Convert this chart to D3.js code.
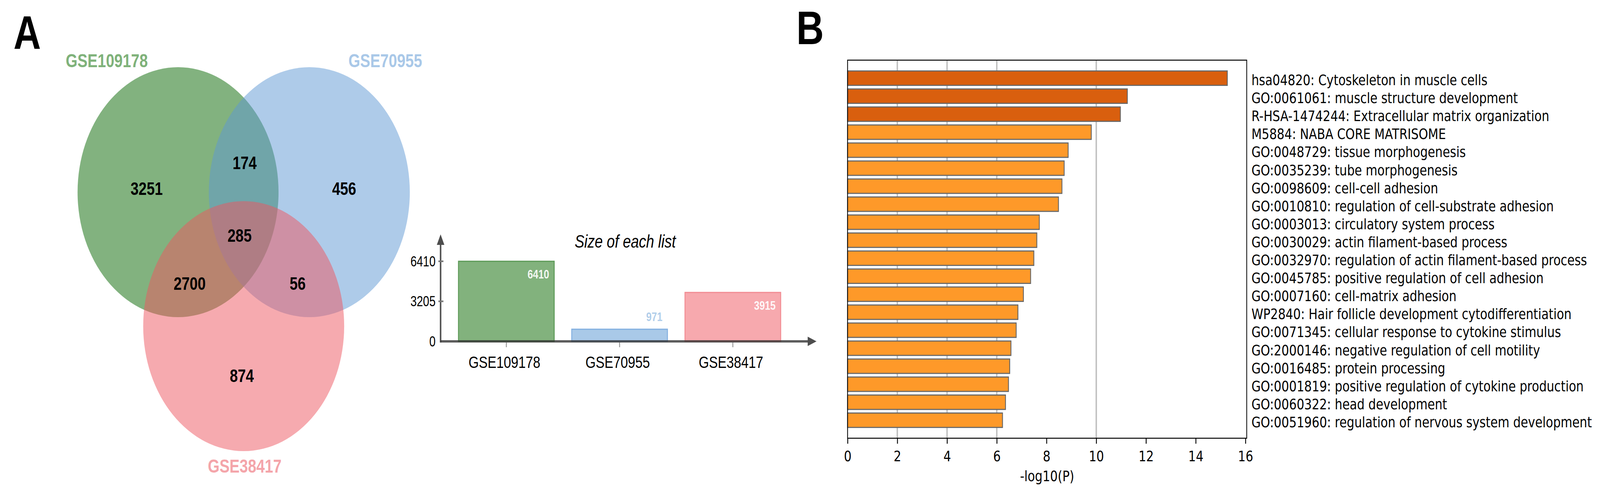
<!DOCTYPE html>
<html><head><meta charset="utf-8">
<script src="https://cdn.jsdelivr.net/npm/d3@7"></script>
<style>html,body{margin:0;padding:0;width:100%;height:100%;overflow:hidden;background:#fff}svg{display:block}</style>
</head><body>
<script>
// ---------------- DATA ----------------
const vennSetNames = ["GSE109178", "GSE70955", "GSE38417"];
const vennRegionKeys = ["G", "GB", "B", "GBR", "GR", "BR", "R"];
const vennRegionCounts = [3251, 174, 456, 285, 2700, 56, 874];

const listNames = ["GSE109178", "GSE70955", "GSE38417"];
const listSizes = [6410, 971, 3915];
const listTicks = [0, 3205, 6410];

const enrichTerms = [
  "hsa04820: Cytoskeleton in muscle cells",
  "GO:0061061: muscle structure development",
  "R-HSA-1474244: Extracellular matrix organization",
  "M5884: NABA CORE MATRISOME",
  "GO:0048729: tissue morphogenesis",
  "GO:0035239: tube morphogenesis",
  "GO:0098609: cell-cell adhesion",
  "GO:0010810: regulation of cell-substrate adhesion",
  "GO:0003013: circulatory system process",
  "GO:0030029: actin filament-based process",
  "GO:0032970: regulation of actin filament-based process",
  "GO:0045785: positive regulation of cell adhesion",
  "GO:0007160: cell-matrix adhesion",
  "WP2840: Hair follicle development cytodifferentiation",
  "GO:0071345: cellular response to cytokine stimulus",
  "GO:2000146: negative regulation of cell motility",
  "GO:0016485: protein processing",
  "GO:0001819: positive regulation of cytokine production",
  "GO:0060322: head development",
  "GO:0051960: regulation of nervous system development"
];
const enrichValues = [15.27, 11.25, 10.97, 9.80, 8.87, 8.71, 8.62, 8.48, 7.71, 7.61,
                      7.49, 7.36, 7.07, 6.85, 6.78, 6.57, 6.52, 6.47, 6.35, 6.23];
const enrichTicks = [0, 2, 4, 6, 8, 10, 12, 14, 16];
const enrichGrid = [2, 4, 6, 10];

// ---------------- LAYOUT / STYLE ----------------
const W = 5095, H = 1252;
const ARIAL = "'Liberation Sans', Arial, sans-serif";
const DEJA = "'DejaVu Sans', sans-serif";

const svg = d3.select("body").append("svg")
  .attr("width", "100%").attr("height", "100%")
  .attr("viewBox", `0 0 ${W} ${H}`).attr("preserveAspectRatio", "none");
svg.append("rect").attr("width", W).attr("height", H).attr("fill", "#fff");

// Panel letters
svg.append("text").attr("x", 43).attr("y", 125).attr("font-family", ARIAL)
  .attr("font-weight", "bold").attr("font-size", 121).text("A");
svg.append("text").attr("x", 2536).attr("y", 113).attr("font-family", ARIAL)
  .attr("font-weight", "bold").attr("font-size", 121).text("B");

// ---------------- VENN ----------------
const VENN = {
  r: 320,
  centers: [[567, 492], [985, 492], [776, 835]],
  fills: ["rgb(5,101,0)", "rgb(93,151,211)", "rgb(237,85,95)"],
  labelColors: ["#7fb27a", "#a9c8e8", "#f4a5aa"],
  labelPos: [[340, 172], [1227, 172], [779, 1210]],
  regionPos: {G: [467, 499], GB: [779, 433], B: [1096, 499], GBR: [763, 619],
              GR: [604, 742], BR: [948, 742], R: [770, 978]}
};
const vg = svg.append("g");
vg.selectAll("circle").data(vennSetNames).join("circle")
  .attr("cx", (d, i) => VENN.centers[i][0]).attr("cy", (d, i) => VENN.centers[i][1])
  .attr("r", VENN.r).attr("fill", (d, i) => VENN.fills[i]).attr("fill-opacity", 0.5);
vg.selectAll("text.setlab").data(vennSetNames).join("text").attr("class", "setlab")
  .attr("x", (d, i) => VENN.labelPos[i][0]).attr("y", (d, i) => VENN.labelPos[i][1])
  .attr("text-anchor", "middle").attr("font-family", ARIAL).attr("font-weight", "bold")
  .attr("font-size", 48).attr("fill", (d, i) => VENN.labelColors[i]).text(d => d);
vg.selectAll("text.cnt").data(vennRegionKeys).join("text").attr("class", "cnt")
  .attr("x", d => VENN.regionPos[d][0]).attr("y", d => VENN.regionPos[d][1])
  .attr("text-anchor", "middle").attr("font-family", ARIAL).attr("font-weight", "bold")
  .attr("font-size", 46).attr("fill", "#000").text((d, i) => vennRegionCounts[i]);

// ---------------- SIZE OF EACH LIST ----------------
const bc = {x0: 1403, y0: 874, barL: 1460, barR: 2486, top: 669, xTip: 2600, yTip: 600};
const bx = d3.scaleBand().domain(listNames).range([bc.barL, bc.barR]).paddingInner(0.155).paddingOuter(0);
const by = d3.scaleLinear().domain([0, 6410]).range([bc.y0, bc.top]);
const barFill = ["#82b27d", "#a9c9e8", "#f7a9ae"];
const barStroke = ["#5c9a57", "#82afe0", "#f28c93"];
const valColor = ["#ffffff", "#a9c9e8", "#ffffff"];
const bg = svg.append("g");

bg.selectAll("rect").data(listSizes).join("rect")
  .attr("x", (d, i) => bx(listNames[i])).attr("width", bx.bandwidth())
  .attr("y", d => by(d)).attr("height", d => by(0) - by(d))
  .attr("fill", (d, i) => barFill[i]).attr("stroke", (d, i) => barStroke[i]).attr("stroke-width", 3);

// value labels
bg.selectAll("text.val").data(listSizes).join("text").attr("class", "val")
  .attr("x", (d, i) => bx(listNames[i]) + bx.bandwidth() - 16)
  .attr("y", d => (by(0) - by(d) > 80) ? by(d) + 44 : by(d) - 21)
  .attr("text-anchor", "end").attr("font-family", ARIAL).attr("font-weight", "bold")
  .attr("font-size", 31).attr("fill", (d, i) => valColor[i]).attr("fill-opacity", 0.92)
  .text(d => d);

// y axis
bg.append("line").attr("x1", bc.x0).attr("x2", bc.x0).attr("y1", bc.y0 + 3).attr("y2", bc.yTip + 25)
  .attr("stroke", "#555").attr("stroke-width", 5);
bg.append("path").attr("d", `M${bc.x0 - 12},${bc.yTip + 27}L${bc.x0},${bc.yTip}L${bc.x0 + 12},${bc.yTip + 27}Z`)
  .attr("fill", "#4d4d4d");
// x axis
bg.append("line").attr("x1", bc.x0).attr("x2", bc.xTip - 26).attr("y1", bc.y0).attr("y2", bc.y0)
  .attr("stroke", "#333").attr("stroke-opacity", 0.8).attr("stroke-width", 6);
bg.append("path").attr("d", `M${bc.xTip - 28},${bc.y0 - 12}L${bc.xTip},${bc.y0}L${bc.xTip - 28},${bc.y0 + 12}Z`)
  .attr("fill", "#4d4d4d");
// y ticks
bg.selectAll("line.yt").data(listTicks.slice(1)).join("line").attr("class", "yt")
  .attr("x1", bc.x0 - 7).attr("x2", bc.x0 + 9).attr("y1", d => by(d)).attr("y2", d => by(d))
  .attr("stroke", "#777").attr("stroke-width", 4);
bg.selectAll("text.ytl").data(listTicks).join("text").attr("class", "ytl")
  .attr("x", bc.x0 - 16).attr("y", d => by(d)).attr("dy", "0.35em")
  .attr("text-anchor", "end").attr("font-family", ARIAL).attr("font-size", 36).text(d => d);
// x ticks
bg.selectAll("line.xt").data(listNames).join("line").attr("class", "xt")
  .attr("x1", d => bx(d) + bx.bandwidth() / 2).attr("x2", d => bx(d) + bx.bandwidth() / 2)
  .attr("y1", bc.y0 + 3).attr("y2", bc.y0 + 15).attr("stroke", "#999").attr("stroke-width", 3);
bg.selectAll("text.xtl").data(listNames).join("text").attr("class", "xtl")
  .attr("x", d => bx(d) + bx.bandwidth() / 2 - 6).attr("y", 942)
  .attr("text-anchor", "middle").attr("font-family", ARIAL).attr("font-size", 42).text(d => d);
// title
bg.append("text").attr("x", 1991).attr("y", 634).attr("text-anchor", "middle")
  .attr("font-family", ARIAL).attr("font-style", "italic").attr("font-size", 46)
  .text("Size of each list");

// ---------------- ENRICHMENT BAR CHART ----------------
const ec = {left: 2699, right: 3970, top: 154, bottom: 1122};
const ex = d3.scaleLinear().domain([0, 16.05]).range([ec.left, ec.right]);
const ey = d3.scaleLinear().domain([-1, enrichTerms.length]).range([ec.top, ec.bottom]);
const pitch = ey(1) - ey(0);
const bh = pitch * 0.8;
const eg = svg.append("g");

eg.selectAll("line.grid").data(enrichGrid).join("line").attr("class", "grid")
  .attr("x1", d => ex(d)).attr("x2", d => ex(d)).attr("y1", ec.top).attr("y2", ec.bottom)
  .attr("stroke", "#bfbfbf").attr("stroke-width", 4.5);

eg.selectAll("rect.bar").data(enrichValues).join("rect").attr("class", "bar")
  .attr("x", ex(0)).attr("y", (d, i) => ey(i) - bh / 2)
  .attr("width", d => ex(d) - ex(0)).attr("height", bh)
  .attr("fill", d => d > 10 ? "#d95f0e" : "#fe9929")
  .attr("stroke", "#666").attr("stroke-width", 2.8);

eg.append("rect").attr("x", ec.left).attr("y", ec.top)
  .attr("width", ec.right - ec.left).attr("height", ec.bottom - ec.top)
  .attr("fill", "none").attr("stroke", "#000").attr("stroke-width", 2.5);

const xAxis = d3.axisBottom(ex).tickValues(enrichTicks).tickSize(14).tickPadding(18)
  .tickFormat(d3.format("d"));
const axg = eg.append("g").attr("transform", `translate(0,${ec.bottom})`).call(xAxis);
axg.select(".domain").remove();
axg.selectAll(".tick line").attr("stroke", "#000").attr("stroke-width", 2.8);
axg.selectAll(".tick text").attr("font-family", DEJA).attr("font-size", 38).attr("fill", "#000");

eg.append("text").attr("x", (ec.left + ec.right) / 2).attr("y", 1232).attr("text-anchor", "middle")
  .attr("font-family", DEJA).attr("font-size", 38).text("-log10(P)");

eg.selectAll("text.term").data(enrichTerms).join("text").attr("class", "term")
  .attr("x", 3985).attr("y", (d, i) => ey(i) + 18)
  .attr("font-family", DEJA).attr("font-size", 38).attr("fill", "#000").text(d => d);
</script>
</body></html>
